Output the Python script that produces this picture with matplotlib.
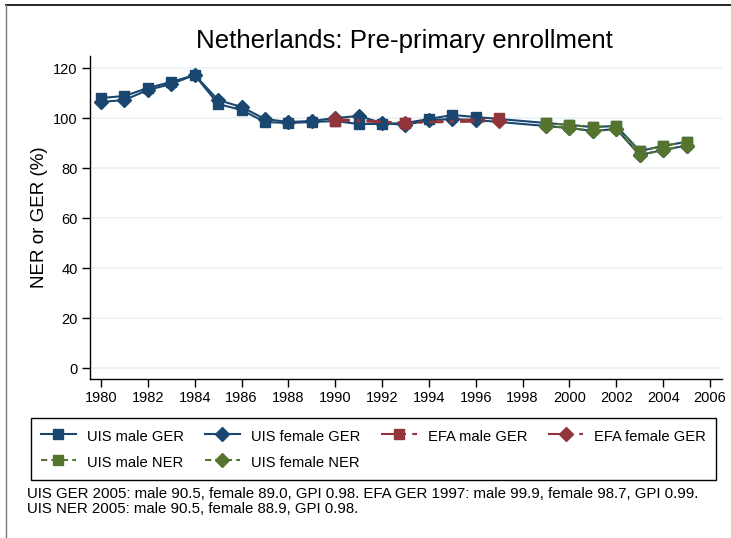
import matplotlib
matplotlib.use("Agg")
import matplotlib.pyplot as plt
from matplotlib.lines import Line2D

plt.rcParams['font.family'] = ['Liberation Sans', 'DejaVu Sans']

# --- data ---
uis_years = [1980, 1981, 1982, 1983, 1984, 1985, 1986, 1987, 1988, 1989, 1990,
             1991, 1992, 1993, 1994, 1995, 1996, 1999, 2000, 2001, 2002, 2003, 2004, 2005]
uis_male_ger = [108.0, 108.8, 112.0, 114.4, 117.2, 105.6, 103.2, 98.4, 98.0, 98.4, 98.8,
                97.6, 97.6, 98.0, 99.6, 101.2, 100.4, 98.0, 97.2, 96.4, 96.8, 86.8, 88.8, 90.5]
uis_female_ger = [106.4, 107.2, 111.2, 113.6, 117.2, 107.2, 104.4, 99.6, 98.4, 98.8, 100.0,
                  100.8, 98.0, 97.2, 99.2, 99.6, 99.2, 96.8, 96.0, 94.8, 95.6, 85.2, 87.2, 89.0]
efa_years = [1990, 1993, 1997]
efa_male_ger = [99.0, 98.0, 99.9]
efa_female_ger = [99.6, 98.1, 98.7]
ner_years = [1999, 2000, 2001, 2002, 2003, 2004, 2005]
uis_male_ner = [98.0, 97.2, 96.4, 96.8, 86.8, 88.8, 90.5]
uis_female_ner = [96.8, 96.0, 94.8, 95.6, 85.2, 87.2, 88.9]

x_ticks = list(range(1980, 2007, 2))
y_ticks = [0, 20, 40, 60, 80, 100, 120]

title = "Netherlands: Pre-primary enrollment"
ylabel = "NER or GER (%)"
note = ("UIS GER 2005: male 90.5, female 89.0, GPI 0.98. EFA GER 1997: male 99.9, female 98.7, GPI 0.99.\n"
        "UIS NER 2005: male 90.5, female 88.9, GPI 0.98.")

navy = "#1a476f"
maroon = "#90353b"
green = "#55752f"
grid = "#eaf2f3"

fig = plt.figure(figsize=(7.31, 5.38), dpi=100)
ax = fig.add_axes([90/731, 1-379/538, (722-90)/731, (379-55.5)/538])

ms_s = 7.5
ms_d = 7.5
lw = 1.5
efa_ls = (0, (7, 3, 2, 3))
ner_ls = (0, (3, 2))
h1, = ax.plot(uis_years, uis_male_ger, color=navy, lw=lw, marker='s', ms=ms_s, label="UIS male GER")
h2, = ax.plot(uis_years, uis_female_ger, color=navy, lw=lw, marker='D', ms=ms_d, label="UIS female GER")
h3, = ax.plot(efa_years, efa_male_ger, color=maroon, lw=lw, ls=efa_ls, marker='s', ms=ms_s, label="EFA male GER")
h4, = ax.plot(efa_years, efa_female_ger, color=maroon, lw=lw, ls=efa_ls, marker='D', ms=ms_d, label="EFA female GER")
h5, = ax.plot(ner_years, uis_male_ner, color=green, lw=lw, ls=ner_ls, marker='s', ms=ms_s, label="UIS male NER")
h6, = ax.plot(ner_years, uis_female_ner, color=green, lw=lw, ls=ner_ls, marker='D', ms=ms_d, label="UIS female NER")

ax.set_xlim(1980 - 11/23.42, 2006 + 12/23.42)
ax.set_ylim(-4.4, 125)
ax.set_xticks(x_ticks)
ax.set_yticks(y_ticks)
ax.tick_params(direction='out', length=6, width=1, labelsize=10.5, colors='black', pad=3)
ax.yaxis.grid(True, color=grid, lw=1.2)
ax.set_axisbelow(True)
for s in ['top', 'right']:
    ax.spines[s].set_visible(False)
for s in ['left', 'bottom']:
    ax.spines[s].set_linewidth(1.0)

ax.set_ylabel(ylabel, fontsize=13.5, labelpad=3.5)
fig.text(404.5/731, 1-41/538, title, fontsize=18.6, ha='center', va='center')

leg = fig.legend(handles=[h1, h5, h2, h6, h3, h4], ncol=4, loc='upper left',
                 bbox_to_anchor=(31/731, 1-418/538), fontsize=10.6,
                 frameon=True, fancybox=False, edgecolor='black', framealpha=1,
                 handlelength=2.4, handletextpad=0.75, columnspacing=1.41,
                 borderpad=0.65, labelspacing=0.7, handleheight=1.3, borderaxespad=0)
leg.get_frame().set_linewidth(1.0)

fig.text(27/731, 1-487/538, note, fontsize=10.8, ha='left', va='top', linespacing=1.13)

# outer frame lines
fig.add_artist(Line2D([6/731, 1], [1-5/538, 1-5/538], color='black', lw=1.2, transform=fig.transFigure))
fig.add_artist(Line2D([6/731, 6/731], [0, 1-5/538], color='#777777', lw=1.0, transform=fig.transFigure))

fig.savefig("out.png", dpi=100)
